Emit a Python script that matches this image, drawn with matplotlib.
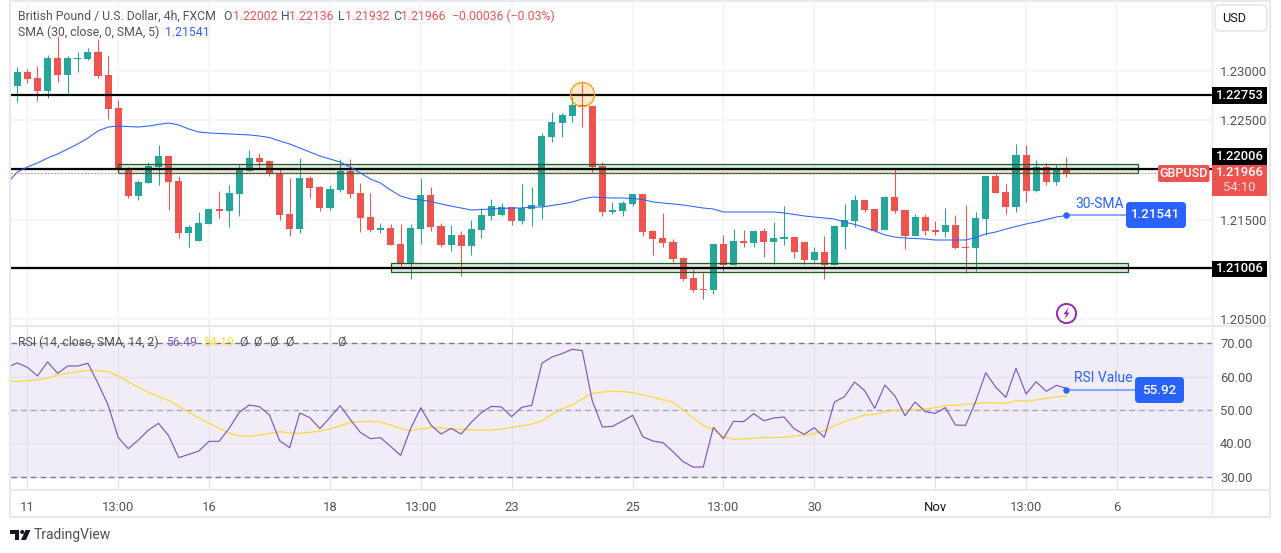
import numpy as np
import matplotlib
matplotlib.use("Agg")
import matplotlib.pyplot as plt
from matplotlib.lines import Line2D
from matplotlib.patches import Rectangle, FancyBboxPatch, Polygon, Circle
from matplotlib.transforms import Affine2D

plt.rcParams['font.family'] = ['Roboto', 'DejaVu Sans']

W, H = 1281, 553

# candles, GBPUSD 4h
opens = [1.22848, 1.22990, 1.22929, 1.22798, 1.23131, 1.22960, 1.23121, 1.23121, 1.23192, 1.22960, 1.22626,
         1.22010, 1.21737, 1.21869, 1.22030, 1.22141, 1.21889, 1.21364, 1.21283, 1.21455, 1.21606, 1.21586,
         1.21758, 1.21990, 1.22121, 1.22091, 1.21970, 1.21556, 1.21404, 1.21919, 1.21828, 1.21616, 1.21798,
         1.21990, 1.21768, 1.21525, 1.21394, 1.21414, 1.21253, 1.21061, 1.21404, 1.21748, 1.21434, 1.21243,
         1.21344, 1.21233, 1.21394, 1.21536, 1.21546, 1.21626, 1.21485, 1.21606, 1.21636, 1.22333, 1.22475,
         1.22545, 1.22657, 1.22646, 1.22040, 1.21576, 1.21586, 1.21657, 1.21758, 1.21384, 1.21313, 1.21273,
         1.21111, 1.20909, 1.20798, 1.20788, 1.21253, 1.21040, 1.21283, 1.21263, 1.21384, 1.21273, 1.21303,
         1.21323, 1.21273, 1.21091, 1.21172, 1.21040, 1.21424, 1.21485, 1.21697, 1.21606, 1.21394, 1.21727,
         1.21596, 1.21333, 1.21525, 1.21394, 1.21374, 1.21445, 1.21223, 1.21212, 1.21505, 1.21939, 1.21778,
         1.21626, 1.22152, 1.21788, 1.22030, 1.21879, 1.22002]
highs = [1.23040, 1.23020, 1.23050, 1.23161, 1.23353, 1.23151, 1.23192, 1.23232, 1.23323, 1.23151, 1.22707,
         1.22030, 1.21899, 1.22081, 1.22253, 1.22141, 1.21939, 1.21445, 1.21576, 1.21616, 1.21788, 1.21849,
         1.22050, 1.22202, 1.22172, 1.22101, 1.22010, 1.21919, 1.22121, 1.21939, 1.21838, 1.21849, 1.22111,
         1.22111, 1.21869, 1.21768, 1.21465, 1.21455, 1.21455, 1.21455, 1.21919, 1.21828, 1.21465, 1.21445,
         1.21384, 1.21495, 1.21616, 1.21707, 1.21667, 1.21626, 1.21859, 1.21828, 1.22374, 1.22586, 1.22576,
         1.22737, 1.22889, 1.22646, 1.22081, 1.21677, 1.21687, 1.21758, 1.21758, 1.21394, 1.21566, 1.21303,
         1.21121, 1.21000, 1.20960, 1.21253, 1.21344, 1.21404, 1.21394, 1.21394, 1.21414, 1.21475, 1.21636,
         1.21323, 1.21273, 1.21223, 1.21333, 1.21445, 1.21657, 1.21748, 1.21697, 1.21606, 1.21737, 1.22010,
         1.21596, 1.21556, 1.21556, 1.21485, 1.21616, 1.21546, 1.21647, 1.21576, 1.21939, 1.21960, 1.21859,
         1.22263, 1.22253, 1.22101, 1.22071, 1.22050, 1.22136]
lows = [1.22687, 1.22879, 1.22697, 1.22727, 1.22889, 1.22758, 1.22990, 1.23111, 1.22929, 1.22515, 1.21970,
        1.21717, 1.21697, 1.21869, 1.21849, 1.21596, 1.21313, 1.21223, 1.21283, 1.21455, 1.21515, 1.21424,
        1.21536, 1.21990, 1.22010, 1.21939, 1.21495, 1.21333, 1.21364, 1.21717, 1.21586, 1.21596, 1.21778,
        1.21717, 1.21374, 1.21374, 1.21364, 1.21243, 1.21020, 1.20899, 1.21253, 1.21384, 1.21223, 1.21182,
        1.20929, 1.21142, 1.21313, 1.21495, 1.21536, 1.21445, 1.21455, 1.21434, 1.21505, 1.22283, 1.22333,
        1.22485, 1.22434, 1.21980, 1.21536, 1.21556, 1.21536, 1.21636, 1.21333, 1.21142, 1.21223, 1.21071,
        1.20879, 1.20768, 1.20697, 1.20748, 1.20980, 1.21040, 1.21223, 1.21223, 1.21121, 1.21051, 1.21243,
        1.21111, 1.21051, 1.21071, 1.20899, 1.21040, 1.21202, 1.21424, 1.21576, 1.21374, 1.21394, 1.21566,
        1.21202, 1.21333, 1.21344, 1.21344, 1.21323, 1.21202, 1.20960, 1.20980, 1.21344, 1.21768, 1.21556,
        1.21576, 1.21677, 1.21778, 1.21849, 1.21849, 1.21932]
closes = [1.22990, 1.22919, 1.22798, 1.23131, 1.22960, 1.23131, 1.23131, 1.23192, 1.22949, 1.22616, 1.22000,
          1.21737, 1.21879, 1.22040, 1.22141, 1.21879, 1.21364, 1.21424, 1.21465, 1.21606, 1.21586, 1.21768,
          1.22000, 1.22121, 1.22081, 1.21960, 1.21546, 1.21404, 1.21919, 1.21818, 1.21616, 1.21808, 1.21990,
          1.21758, 1.21515, 1.21394, 1.21414, 1.21243, 1.21061, 1.21414, 1.21748, 1.21424, 1.21243, 1.21344,
          1.21233, 1.21404, 1.21546, 1.21636, 1.21626, 1.21485, 1.21616, 1.21647, 1.22343, 1.22485, 1.22556,
          1.22657, 1.22636, 1.22030, 1.21576, 1.21596, 1.21667, 1.21758, 1.21374, 1.21303, 1.21263, 1.21101,
          1.20899, 1.20788, 1.20788, 1.21253, 1.21040, 1.21283, 1.21263, 1.21384, 1.21273, 1.21313, 1.21323,
          1.21172, 1.21091, 1.21172, 1.21040, 1.21434, 1.21495, 1.21697, 1.21596, 1.21384, 1.21727, 1.21586,
          1.21333, 1.21525, 1.21384, 1.21374, 1.21445, 1.21212, 1.21212, 1.21515, 1.21939, 1.21768, 1.21626,
          1.22152, 1.21788, 1.22030, 1.21879, 1.22010, 1.21966]

# 30 SMA, first value is one bar before the first candle
sma30 = [1.21869, 1.21980, 1.22030, 1.22071, 1.22121, 1.22162, 1.22212, 1.22263, 1.22323, 1.22394, 1.22434,
         1.22444, 1.22439, 1.22434, 1.22444, 1.22460, 1.22475, 1.22455, 1.22414, 1.22384, 1.22374, 1.22369,
         1.22364, 1.22359, 1.22354, 1.22343, 1.22328, 1.22293, 1.22263, 1.22222, 1.22182, 1.22141, 1.22111,
         1.22081, 1.22030, 1.21970, 1.21909, 1.21869, 1.21798, 1.21737, 1.21707, 1.21697, 1.21682, 1.21657,
         1.21636, 1.21616, 1.21596, 1.21601, 1.21606, 1.21611, 1.21616, 1.21616, 1.21626, 1.21626, 1.21642,
         1.21657, 1.21677, 1.21707, 1.21727, 1.21722, 1.21717, 1.21717, 1.21712, 1.21702, 1.21677, 1.21667,
         1.21657, 1.21647, 1.21631, 1.21616, 1.21606, 1.21576, 1.21576, 1.21576, 1.21576, 1.21576, 1.21576,
         1.21566, 1.21551, 1.21536, 1.21525, 1.21515, 1.21505, 1.21475, 1.21450, 1.21420, 1.21384, 1.21344,
         1.21323, 1.21313, 1.21308, 1.21303, 1.21293, 1.21293, 1.21293, 1.21293, 1.21318, 1.21354, 1.21374,
         1.21404, 1.21429, 1.21455, 1.21475, 1.21500, 1.21525, 1.21541]

rsi = [62.8, 64.1, 62.8, 60.2, 64.4, 61.0, 63.2, 63.2, 64.0, 58.0, 51.5, 41.8, 38.4, 41.0, 44.0, 46.0, 42.3, 35.7,
       36.7, 37.7, 40.6, 40.6, 44.5, 49.3, 51.5, 51.0, 48.5, 40.8, 38.7, 49.1, 47.7, 44.4, 47.8, 51.3, 47.2, 43.3,
       41.4, 41.7, 39.1, 36.4, 44.5, 50.7, 45.5, 42.8, 44.5, 42.8, 46.3, 49.2, 51.1, 50.9, 48.0, 50.8, 51.4, 64.0,
       65.9, 66.9, 68.2, 67.8, 52.7, 44.9, 45.1, 46.7, 48.4, 42.0, 40.7, 40.2, 37.5, 34.5, 32.9, 32.9, 44.8, 41.4,
       46.6, 46.5, 48.9, 46.8, 47.6, 47.9, 44.4, 42.7, 44.7, 41.8, 52.4, 54.0, 58.4, 55.8, 50.5, 57.5, 54.2, 48.3,
       52.4, 49.5, 49.0, 50.7, 45.5, 45.4, 52.5, 61.2, 56.8, 53.8, 62.5, 54.8, 58.5, 55.6, 57.4, 56.49]
rsi_ma = [58.5, 58.6, 58.8, 59.0, 59.5, 60.5, 61.0, 61.5, 61.9, 61.8, 61.5, 60.2, 58.5, 56.8, 55.3, 54.0, 52.9, 51.2,
          49.3, 47.7, 46.0, 44.5, 43.1, 42.3, 42.1, 42.5, 43.0, 43.5, 43.1, 43.0, 43.3, 43.7, 44.3, 45.3, 46.3, 46.5,
          46.6, 46.3, 45.5, 44.5, 43.8, 44.3, 44.8, 44.6, 44.3, 44.2, 44.1, 44.0, 44.0, 44.3, 44.8, 45.2, 45.8, 46.8,
          48.7, 50.3, 51.5, 53.3, 55.0, 55.4, 55.6, 55.5, 55.2, 54.5, 53.9, 53.1, 52.3, 50.0, 47.7, 45.3, 44.0, 42.0,
          41.2, 41.3, 41.5, 41.8, 41.7, 41.8, 42.2, 42.4, 42.9, 43.7, 45.2, 46.6, 47.5, 48.5, 48.7, 49.5, 49.9, 49.9,
          50.1, 50.3, 50.7, 51.3, 51.4, 51.7, 51.9, 52.2, 52.1, 52.0, 52.8, 52.7, 53.0, 53.5, 53.9, 54.19]

levels = [1.22753, 1.22006, 1.21006]
upper_zone = (10, 111.06, 1.21967, 1.22058)
lower_zone = (37, 110.07, 1.20973, 1.21056)

price_ticks = [1.23, 1.225, 1.22, 1.215, 1.21, 1.205]
price_labels = ['1.23000', '1.22500', '', '1.21500', '', '1.20500']
rsi_ticks = [30, 40, 50, 60, 70]
time_pos = [1, 10, 19, 31, 40, 49, 61, 70, 79, 91, 100, 109]
time_labels = ['11', '13:00', '16', '18', '13:00', '23', '25', '13:00', '30', 'Nov', '13:00', '6']

GREEN, RED, BLUE = '#26a69a', '#ef5350', '#2962ff'
PURPLE, YELLOW = '#7e57c2', '#fdd835'
GRID, BORDER = '#f0f3fa', '#e6e9f0'
TXT = '#50535e'
FS = 8.85

fig = plt.figure(figsize=(W / 100, H / 100), dpi=100)
px = Affine2D().scale(1 / W, -1 / H).translate(0, 1) + fig.transFigure

L, R = 10.5, 1211.7
ax = fig.add_axes([L / W, 1 - 326 / H, (R - L) / W, 324 / H])
ax2 = fig.add_axes([L / W, 1 - 490 / H, (R - L) / W, 163.5 / H])
for a in (ax, ax2):
    a.set_xlim(-0.674, 118.4)
    for s in a.spines.values():
        s.set_visible(False)
    a.set_xticks(time_pos)
    a.grid(True, color=GRID, lw=1.1, zorder=0)
    a.set_axisbelow(True)

idx = np.arange(len(closes))
o, c = np.array(opens), np.array(closes)
colors = [GREEN if cl > op else RED for op, cl in zip(opens, closes)]

ax.set_ylim(1.23717 - 326 * 0.000101, 1.23717 - 2 * 0.000101)
ax.yaxis.tick_right()
ax.set_yticks(price_ticks)
ax.set_yticklabels(price_labels)
ax.tick_params(axis='y', length=0, pad=6, labelsize=9.4, labelcolor=TXT)
ax.tick_params(axis='x', length=0, labelbottom=False)

ax.vlines(idx, lows, highs, color=colors, lw=0.75, zorder=2)
ax.bar(idx, np.maximum(np.abs(c - o), 0.00004), bottom=np.minimum(o, c), width=0.7, color=colors, zorder=3)

# zones and levels go over the candles
for x0, x1, y0, y1 in (upper_zone, lower_zone):
    ax.add_patch(Rectangle((x0, y0), x1 - x0, y1 - y0, fc=(0.11, 0.37, 0.13, 0.14), ec='#1b5e20', lw=0.9, zorder=4))
for lv in levels:
    ax.axhline(lv, color='black', lw=1.6, zorder=5)
ax.hlines(closes[-1], -0.674, 113.1, color=RED, lw=0.8, ls=(0, (1, 2)), zorder=5)

sma_x = np.arange(-1, len(closes))
ax.plot(sma_x, sma30, color=BLUE, lw=0.75, zorder=6)
ax.hlines(sma30[-1], idx[-1], 110, color='#8aa8ff', lw=1.5, zorder=6)
ax.plot(idx[-1], sma30[-1], 'o', color=BLUE, ms=3.6, zorder=7)

# swing high marker
ax.plot(56, 1.22764, 'o', ms=17.3, mfc=(1.0, 0.6, 0.0, 0.2), mec='#ff9800', mew=0.9, zorder=7)

# flash icon under the last candle
ax.plot(idx[-1], 1.20551, 'o', ms=13.8, mfc='white', mec='#9c27b0', mew=1.4, zorder=7)
bolt = [(0.35, 1), (-0.5, -0.12), (-0.05, -0.12), (-0.35, -1), (0.5, 0.15), (0.05, 0.15)]
ax.plot(idx[-1], 1.20551, marker=bolt, ms=9, mfc='#9c27b0', mec='none', zorder=8)

# RSI pane
ax2.set_ylim(70 - (490 - 343.3) / 3.335, 70 + (343.3 - 326.5) / 3.335)
ax2.axhspan(30, 70, color=PURPLE, alpha=0.1, lw=0, zorder=0.5)
ax2.set_yticks(rsi_ticks)
ax2.set_yticklabels(['%.2f' % v for v in rsi_ticks])
ax2.yaxis.tick_right()
ax2.tick_params(axis='y', length=0, pad=6, labelsize=9.4, labelcolor=TXT)
ax2.set_xticklabels(time_labels)
ax2.tick_params(axis='x', length=0, pad=8, labelsize=9.4, labelcolor=TXT)
ax2.get_xticklabels()[time_labels.index('Nov')].set_color('#131722')
ax2.grid(True, color='#e4e2ec', lw=0.9)
ax2.set_axisbelow(True)
ax2.axhline(70, color='#787b86', lw=1, ls=(0, (4, 3)), zorder=1)
ax2.axhline(30, color='#787b86', lw=1, ls=(0, (4, 3)), zorder=1)
ax2.axhline(50, color='#a8a9b2', lw=1, ls=(0, (4, 3)), zorder=1)
ax2.plot(sma_x, rsi_ma, color=YELLOW, lw=0.85, zorder=3)
ax2.plot(sma_x, rsi, color=PURPLE, lw=0.85, zorder=4)
ax2.hlines(55.92, sma_x[-1], 110.9, color='#8aa8ff', lw=1.5, zorder=4)
ax2.plot(sma_x[-1], 55.92, 'o', color=BLUE, ms=3.6, zorder=5)


def rect(x0, y0, x1, y1, fc, ec='none', lw=0, rounding=0):
    p = FancyBboxPatch((x0, y0), x1 - x0, y1 - y0, boxstyle='round,pad=0,rounding_size=%g' % rounding,
                       fc=fc, ec=ec, lw=lw, transform=px, zorder=10)
    fig.add_artist(p)


def label(x, y, s, color='#131722', ha='left', size=FS, **kw):
    fig.text(x, y, s, color=color, ha=ha, va='center', size=size, transform=px, zorder=11, **kw)


# frame around the chart
for (x0, y0, x1, y1) in [(9.5, 1, 1270, 1), (9.7, 1, 9.7, 517), (1270, 1, 1270, 517), (9.5, 517, 1270, 517),
                         (9.5, 326, 1270, 326), (9.5, 490, 1270, 490), (R, 1, R, 517)]:
    fig.add_artist(Line2D([x0, x1], [y0, y1], color=BORDER, lw=1.5 if x0 != R else 1.0, transform=px, zorder=9))

# price scale tags
rect(1212, 87, 1267, 104, 'black')
label(1239.5, 95.3, '%.5f' % levels[0], 'white', 'center', fontweight='medium', size=9.4)
rect(1212, 148, 1267, 165, 'black')
label(1239.5, 156.6, '%.5f' % levels[1], 'white', 'center', fontweight='medium', size=9.4)
rect(1212, 261, 1267, 277, 'black')
label(1239.5, 268.8, '%.5f' % levels[2], 'white', 'center', fontweight='medium', size=9.4)
rect(1212, 165, 1267, 196, RED)
label(1239.5, 173, '%.5f' % closes[-1], 'white', 'center', fontweight='medium', size=9.4)
label(1239.5, 187.5, '54:10', '#fbdcdc', 'center', size=9.4)
rect(1158, 165, 1209.5, 182, RED, rounding=2)
label(1183.8, 173.3, 'GBPUSD', 'white', 'center', fontweight='medium', size=9.1)
rect(1215, 5, 1267, 31, 'white', ec='#e0e3eb', lw=1, rounding=5)
label(1234, 18.5, 'USD', '#131722', 'center', size=9.1)

# drawn labels
rect(1126, 202, 1186, 228, BLUE, rounding=4)
label(1156, 214.5, '%.5f' % sma30[-1], 'white', 'center', fontweight='medium', size=9.6)
label(1100, 203.5, '30-SMA', BLUE, 'center', size=10)
rect(1135, 377, 1184, 403, BLUE, rounding=4)
label(1159.5, 390, '55.92', 'white', 'center', fontweight='medium', size=9.6)
label(1103.5, 378.5, 'RSI Value', BLUE, 'center', size=10)

# legend rows
label(18, 16, 'British Pound / U.S. Dollar, 4h, FXCM', TXT)
for x, s, col in [(223, 'O', TXT), (232.5, '%.5f' % opens[-1], RED), (281, 'H', TXT), (289, '%.5f' % highs[-1], RED),
                  (338, 'L', TXT), (345, '%.5f' % lows[-1], RED), (393, 'C', TXT), (401, '%.5f' % closes[-1], RED),
                  (452, '\u22120.00036 (\u22120.03%)', RED)]:
    label(x, 16, s, col)
label(18, 32.5, 'SMA (30, close, 0, SMA, 5)', TXT)
label(165, 32.5, '%.5f' % sma30[-1], BLUE)
label(18, 342, 'RSI (14, close, SMA, 14, 2)', TXT)
label(166, 342, '%.2f' % rsi[-1], PURPLE)
label(203, 342, '%.2f' % rsi_ma[-1], YELLOW)
for x in (243, 258, 273, 289, 341):
    label(x, 342, '\u00d8', TXT, 'center')

# TradingView logo
fig.add_artist(Polygon([(10, 530), (19, 530), (19, 540), (14.5, 540), (14.5, 533.5), (10, 533.5)], fc='#131722', ec='none',
                       transform=px, zorder=10))
fig.add_artist(Circle((22.2, 532), 2, fc='#131722', ec='none', transform=px, zorder=10))
fig.add_artist(Polygon([(25.5, 530), (30.5, 530), (26, 540), (21, 540)], fc='#131722', ec='none', transform=px, zorder=10))
label(33.5, 535, 'TradingView', '#4a4e59', size=10)

fig.savefig('out.png', dpi=100)
